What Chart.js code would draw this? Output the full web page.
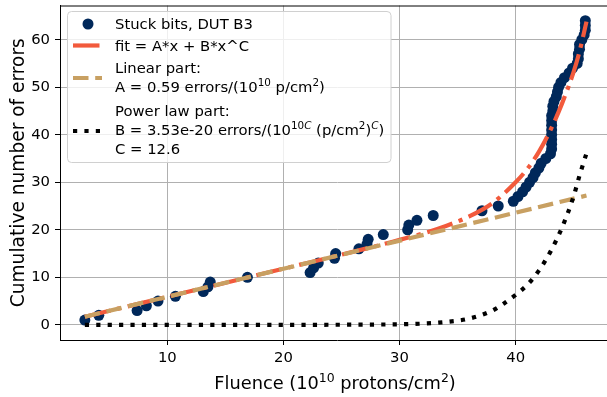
<!DOCTYPE html>
<html lang="en">
<head>
<meta charset="UTF-8">
<title>Stuck bits vs fluence</title>
<script src="https://cdn.jsdelivr.net/npm/chart.js"></script>
<style>
  html, body { margin: 0; padding: 0; background: #fff; overflow: hidden; }
  #wrap { width: 620px; height: 397px; }
</style>
</head>
<body>
<div id="wrap"><canvas id="grafico" width="620" height="397"></canvas></div>
<script>
// measured points: fluence (1e10 p/cm2) and cumulative errors
const fluence = [2.9, 4.1, 7.4, 8.2, 9.2, 10.7, 13.1, 13.5, 13.7, 16.9,
  22.3, 22.6, 23.0, 24.4, 24.5, 26.5, 27.2, 27.3, 28.6, 30.7,
  30.8, 31.5, 32.9, 37.1, 38.5, 39.8, 40.2, 40.6, 40.9, 41.2,
  41.5, 41.7, 42.0, 42.2, 42.6, 43.0, 43.1, 43.1, 43.1, 43.1,
  43.1, 43.1, 43.1, 43.1, 43.2, 43.2, 43.3, 43.5, 43.6, 43.7,
  43.9, 44.2, 44.6, 44.9, 45.3, 45.4, 45.4, 45.5, 45.5, 45.7,
  45.9, 46.0, 46.0, 46.0];
const errors = [1, 2, 3, 4, 5, 6, 7, 8, 9, 10,
  11, 12, 13, 14, 15, 16, 17, 18, 19, 20,
  21, 22, 23, 24, 25, 26, 27, 28, 29, 30,
  31, 32, 33, 34, 35, 36, 37, 38, 39, 40,
  41, 42, 43, 44, 45, 46, 47, 48, 49, 50,
  51, 52, 53, 54, 55, 56, 57, 58, 59, 60,
  61, 62, 63, 64];

// curves
const fitX = [2.9, 20, 28, 32, 34, 36, 38, 40, 41, 42, 43, 44, 45, 45.5, 46.1];
const fitY = [1.7, 11.8, 16.6, 19.2, 20.8, 22.8, 25.6, 30.0, 32.8, 36.4, 41.0, 46.6, 53.3, 57.5, 63.8];
const linX = [2.9, 46.1];
const linY = [1.7, 27.2];
const powX = [2.9, 20, 28, 32, 34, 36, 38, 39, 40, 41, 42, 43, 44, 45, 45.5, 46.1];
const powY = [0, 0, 0.05, 0.25, 0.6, 1.3, 3.0, 4.5, 6.3, 8.4, 11.4, 15.4, 20.5, 27.1, 31.4, 36.1];

const xTicks = [10, 20, 30, 40];
const yTicks = [0, 10, 20, 30, 40, 50, 60];

// rich text: [text, 'sup' | 'supi']
const xTitle = [['Fluence (10'], ['10', 'sup'], [' protons/cm'], ['2', 'sup'], [')']];
const yTitle = [['Cumulative number of errors']];
const legendLabels = [
  [[['Stuck bits, DUT B3']]],
  [[['fit = A*x + B*x^C']]],
  [[['Linear part:']],
   [['A = 0.59 errors/(10'], ['10', 'sup'], [' p/cm'], ['2', 'sup'], [')']]],
  [[['Power law part:']],
   [['B = 3.53e-20 errors/(10'], ['10', 'sup'], ['C', 'supi'], [' (p/cm'], ['2', 'sup'], [')'], ['C', 'supi'], [')']],
   [['C = 12.6']]]
];

const FONT = '"DejaVu Sans", sans-serif';

function pts(xs, ys) {
  return xs.map((x, i) => ({ x: x, y: ys[i] }));
}

function richWidth(ctx, segs, size) {
  let w = 0;
  for (const [t, k] of segs) {
    const fs = k ? size * 0.7 : size;
    ctx.font = (k === 'supi' ? 'italic ' : '') + fs + 'px ' + FONT;
    w += ctx.measureText(t).width;
  }
  return w;
}

function drawRich(ctx, segs, x, y, size) {
  ctx.textBaseline = 'alphabetic';
  ctx.textAlign = 'left';
  for (const [t, k] of segs) {
    const fs = k ? size * 0.7 : size;
    ctx.font = (k === 'supi' ? 'italic ' : '') + fs + 'px ' + FONT;
    ctx.fillText(t, x, k ? y - size * 0.4 : y);
    x += ctx.measureText(t).width;
  }
}

const extras = {
  id: 'extras',
  afterDraw(chart) {
    const ctx = chart.ctx;
    const a = chart.chartArea;
    ctx.save();
    // top spine
    ctx.strokeStyle = '#000';
    ctx.lineWidth = 1;
    ctx.beginPath();
    ctx.moveTo(a.left, a.top + 0.5);
    ctx.lineTo(a.right, a.top + 0.5);
    ctx.stroke();

    // axis titles
    ctx.fillStyle = '#000';
    const xs = 17.8;
    const xw = richWidth(ctx, xTitle, xs);
    drawRich(ctx, xTitle, 335 - xw / 2, 389, xs);
    const ys = 18.6;
    const yw = richWidth(ctx, yTitle, ys);
    ctx.translate(23.5, (a.top + a.bottom) / 2);
    ctx.rotate(-Math.PI / 2);
    drawRich(ctx, yTitle, -yw / 2, 0, ys);
    ctx.setTransform(1, 0, 0, 1, 0, 0);

    // legend box
    const bx = 67.5, by = 11.5, bw = 323.5, bh = 151;
    ctx.beginPath();
    ctx.roundRect(bx, by, bw, bh, 4);
    ctx.fillStyle = 'rgba(255,255,255,0.8)';
    ctx.fill();
    ctx.strokeStyle = '#d0d0d0';
    ctx.lineWidth = 1;
    ctx.stroke();

    const ds = chart.data.datasets;
    const lineY = [[24], [45.5], [67.8, 86.7], [110.5, 130, 148.3]];
    const handleY = [24, 45.5, 78, 131];
    const ls = 14.8;
    legendLabels.forEach((rows, i) => {
      const d = ds[i];
      const hy = handleY[i];
      if (i === 0) {
        ctx.beginPath();
        ctx.arc(88, hy, d.pointRadius, 0, Math.PI * 2);
        ctx.fillStyle = d.backgroundColor;
        ctx.fill();
      } else {
        ctx.beginPath();
        ctx.setLineDash(d.borderDash);
        ctx.strokeStyle = d.borderColor;
        ctx.lineWidth = d.borderWidth;
        ctx.moveTo(73, hy);
        ctx.lineTo(102, hy);
        ctx.stroke();
        ctx.setLineDash([]);
      }
      ctx.fillStyle = '#000';
      rows.forEach((segs, j) => {
        drawRich(ctx, segs, 115, lineY[i][j] + ls * 0.365, ls);
      });
    });
    ctx.restore();
  }
};

const ctx = document.getElementById('grafico').getContext('2d');
new Chart(ctx, {
  type: 'scatter',
  data: {
    datasets: [
      {
        label: 'Stuck bits, DUT B3',
        data: pts(fluence, errors),
        backgroundColor: '#00285a',
        borderWidth: 0,
        pointRadius: 5.5,
        order: 4
      },
      {
        label: 'fit',
        data: pts(fitX, fitY),
        showLine: true,
        borderColor: '#f25a3c',
        borderWidth: 4.2,
        borderDash: [26.5, 6.7, 4.2, 6.7],
        cubicInterpolationMode: 'monotone',
        pointRadius: 0,
        order: 3
      },
      {
        label: 'Linear part',
        data: pts(linX, linY),
        showLine: true,
        borderColor: '#c8a062',
        borderWidth: 4.2,
        borderDash: [15.5, 6.7],
        pointRadius: 0,
        order: 2
      },
      {
        label: 'Power law part',
        data: pts(powX, powY),
        showLine: true,
        borderColor: '#000',
        borderWidth: 4.2,
        borderDash: [4.2, 7.2],
        cubicInterpolationMode: 'monotone',
        pointRadius: 0,
        order: 1
      }
    ]
  },
  options: {
    responsive: false,
    devicePixelRatio: 1,
    animation: false,
    layout: { padding: { top: 4, right: 6, left: 0, bottom: 0 } },
    plugins: { legend: { display: false }, tooltip: { enabled: false } },
    scales: {
      x: {
        type: 'linear',
        min: 0.76,
        max: 48.47,
        afterBuildTicks: s => { s.ticks = xTicks.map(v => ({ value: v })); },
        afterFit: s => { s.height = 57; s.paddingLeft = 0; s.paddingRight = 0; },
        grid: { color: '#b0b0b0', lineWidth: 1, tickColor: '#000', tickLength: 5, tickWidth: 1 },
        border: { color: '#000', width: 1 },
        ticks: { color: '#000', font: { family: 'DejaVu Sans', size: 14.8 }, padding: 4, maxRotation: 0 }
      },
      y: {
        min: -3.2,
        max: 67.2,
        afterBuildTicks: s => { s.ticks = yTicks.map(v => ({ value: v })); },
        afterFit: s => { s.width = 60; s.paddingTop = 0; s.paddingBottom = 0; },
        grid: { color: '#b0b0b0', lineWidth: 1, tickColor: '#000', tickLength: 5, tickWidth: 1 },
        border: { color: '#000', width: 1 },
        ticks: { color: '#000', font: { family: 'DejaVu Sans', size: 14.8 }, padding: 5 }
      }
    }
  },
  plugins: [extras]
});
</script>
</body>
</html>
